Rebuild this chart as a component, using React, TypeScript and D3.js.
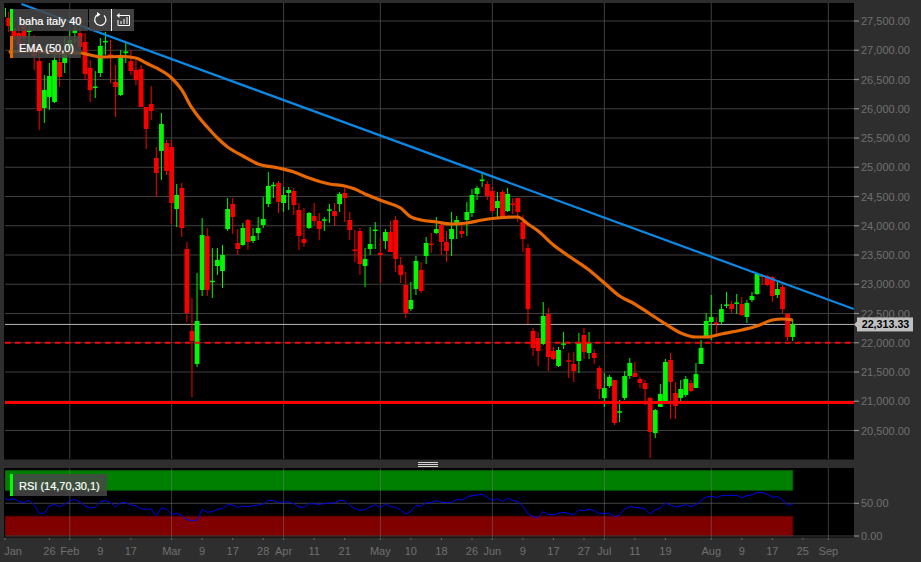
import * as d3 from 'd3';

const opens = [27568,27551,27380,27295,27432,27312,27073,26816,26013,26201,26115,26799,26782,27038,27295,27295,27141,26697,26363,26611,27140,26930,26457,26235,26950,26816,26662,26679,26030,26081,25158,25278,25415,25346,24286,24645,23603,22201,21637,22902,23825,23040,23312,23226,23944,24372,23705,23671,24098,23739,23876,24013,24372,24680,24731,24389,24560,24594,24269,23773,23962,24167,24081,24090,24260,24252,24372,24560,24098,23595,23910,23312,23603,23920,23534,23739,23893,24098,23329,22987,22577,22919,23244,23483,23695,23876,24013,23722,23773,24013,23910,24098,24218,24543,24775,24714,24594,24303,24577,24252,24380,24474,24064,23620,22201,22081,21979,22492,21859,21603,21970,21700,21637,21688,22132,21825,21825,21568,21056,21261,21363,20810,21056,21432,21483,21380,21312,21056,20457,20902,20970,21705,21141,21056,21107,21312,21226,21637,22081,22355,22345,22355,22640,22662,22670,22662,22440,22731,22833,23158,23141,23124,22816,22953,22492,22098];
const highs = [27774,27654,27483,27432,27517,27432,27261,27124,26577,26782,27004,27124,27227,27346,27432,27380,27295,26833,26645,27209,27312,27175,26748,27004,27141,27004,26868,26748,26030,26389,25346,25927,25466,25466,24714,24731,23722,22765,23192,24133,23962,23620,23620,23671,24474,24474,23944,24047,24115,23962,24150,24491,24919,24748,24765,24662,24662,24645,24389,24303,24235,24389,24218,24150,24372,24389,24577,24645,24235,23927,23962,23620,23979,24064,23791,23944,24081,24167,23466,23209,23038,23483,23380,23808,23876,24150,24047,23910,24235,24167,24064,24406,24628,24680,24902,24765,24662,24577,24611,24645,24474,24474,24184,23688,22252,22184,22697,22594,21927,21927,22184,21825,21842,22167,22252,22184,21893,21603,21483,21449,21363,21021,21517,21739,21671,21415,21363,21073,20868,21295,21722,21825,21329,21363,21432,21363,21654,22047,22509,22816,22440,22662,22868,22714,22833,22782,22731,22868,23192,23175,23158,23141,23038,22987,22509,22406];
const lows = [27517,27312,27038,26919,27004,27090,26662,25637,25756,25979,26098,26372,26611,26919,27124,27004,26491,26115,26184,26543,26919,26440,25859,26218,26782,26577,26406,26030,25312,25808,24491,24782,24868,24030,23979,23808,22355,21073,21585,22799,22799,22765,23158,22936,23910,23859,23500,23654,23586,23705,23756,23962,24320,24474,24218,24235,24269,24184,23586,23637,23944,24013,23756,23910,24047,23996,24235,24064,23756,23380,23158,22953,23500,23603,23021,23603,23551,23209,23021,22423,22543,22816,22850,23346,23534,23859,23500,23380,23483,23773,23791,23825,24150,24440,24662,24440,24218,24133,24115,24235,24201,24064,23551,22321,21773,21603,21962,21517,21705,21585,21893,21397,21329,21483,21722,21722,21637,21038,20902,21226,20594,20645,21021,21380,21415,21226,20936,20030,20372,20902,20970,20697,20697,21004,21073,21158,21226,21637,22081,22047,22150,22304,22594,22509,22492,22457,22338,22697,22816,22987,22970,22697,22765,22509,22030,22030];
const closes = [27722,27415,27175,27090,27209,27346,26902,25962,26321,26560,26833,26543,26919,27175,27346,27056,26594,26321,26380,27073,27160,26890,26372,26919,26980,26645,26491,26030,25654,25962,24902,25739,24936,24389,24526,23962,22509,22030,22372,23842,22902,23060,23415,23500,24286,24150,23603,23962,23722,23825,23962,24115,24680,24700,24406,24526,24611,24355,23825,23705,24218,24081,23944,24110,24280,24167,24543,24474,23927,23575,23346,23432,23688,23935,23500,23893,23551,23432,23158,22509,22731,23398,22885,23705,23680,23944,23722,23568,23944,24098,23859,24235,24526,24645,24790,24509,24252,24423,24167,24543,24365,24235,23773,22577,21910,21859,22457,21756,21722,21876,21990,21680,21517,21996,21842,21996,21739,21209,21226,21415,20628,20830,21432,21654,21415,21312,21209,20474,20850,21124,21671,21329,20919,21209,21380,21175,21466,21910,22372,22440,22330,22577,22655,22577,22690,22474,22680,22799,23175,23124,22987,22799,22919,22577,22098,22313.33];

const emaIndex = [1,5,11,15,17,19,23,26,28,30,33,35,37,38,40,42,44,47,50,54,57,60,64,67,69,71,75,78,80,82,85,88,91,94,97,101,103,105,108,111,115,118,121,124,127,130,133,136,138,141,145,148,151,153,155];
const emaValues = [26970,26987,26953,26953,26919,26885,26893,26868,26782,26697,26526,26321,26013,25893,25688,25500,25346,25192,25056,24987,24919,24816,24714,24680,24628,24543,24406,24303,24150,24098,24064,24030,24047,24098,24133,24150,24030,23910,23671,23483,23244,23021,22799,22662,22492,22321,22167,22098,22098,22150,22218,22286,22389,22406,22389];

const rsiValues = [58.7,55.1,57.1,52.6,51,54.6,47.4,34.7,34.7,45.9,48.5,44.9,48.5,53.6,56.1,51.5,45.9,42.9,43.9,52.6,54.1,51,44.4,51,51,47.4,46.4,41.3,41.3,40.8,31.1,42.9,40.8,33.2,34.7,31.1,25,23.5,24.5,40.8,36.2,37.2,40.8,41.8,48,47.4,43.9,45.9,44.9,46.4,47.4,49,54.6,54.1,51,52,52,49.5,44.4,43.9,49.5,49,48.5,49.5,50.5,50.5,54.6,53.6,46.4,42.3,39.3,40.3,44.4,48,43.4,49,44.9,43.9,39.8,33.7,37.8,46.9,45.4,51,51,54.1,51.5,51,51.5,55.6,55.1,59.2,61.7,62.8,63.8,59.2,54.6,57.1,52.6,57.7,54.6,52.6,45.9,34.2,29.1,28.6,37.2,32.7,32.7,34.7,36.2,34.2,32.7,39.8,38.8,40.8,38.8,34.2,34.7,34.7,29.6,32.1,41.3,44.9,43.9,42.9,41.3,33.7,39.8,42.9,50,47.4,44.4,45.9,48,44.9,48,54.1,59.7,60.7,58.7,61.7,62.2,61.7,62.2,58.7,61.7,62.8,66.8,66.3,63.8,59.2,60.7,55.1,46.4,49.5];

const priceTicks = [20500,21000,21500,22000,22500,23000,23500,24000,24500,25000,25500,26000,26500,27000,27500];
const rsiTicks = [0,50];
const dateTickIndex = [0,9,13,19,25,33,39,45,51,55,61,67,74,80,86,92,96,102,108,114,118,124,130,139,145,151,157,162];
const dateTickLabels = ['Jan','26','Feb','9','17','Mar','9','17','28','Apr','11','21','May','10','18','26','Jun','9','17','27','Jul','11','19','Aug','9','17','25','Sep'];
const monthLabels = ['Jan','Feb','Mar','Apr','May','Jun','Jul','Aug','Sep'];

const trendIndex = [3.5,167];
const trendValues = [27790,22577];
const supportDashed = 22000;
const supportSolid = 20980;
const lastPrice = 22313.33;

const WIDTH = 921;
const HEIGHT = 562;
const left = 5;
const right = 854;
const lastCandle = opens.length - 1;

const UP = '#00f800';
const DOWN = '#f80000';
const GRID = '#404040';
const AXIS_TEXT = '#707070';
const FONT = '"Liberation Sans", Arial, sans-serif';

export default function App() {
  const x = d3.scaleLinear().domain([0, lastCandle]).range([3.6, 792.7]);
  const y = d3.scaleLinear().domain([20500, 27500]).range([430.5, 21]);
  const rsiY = d3.scaleLinear().domain([0, 100]).range([536, 470.6]);

  const emaLine = d3.line<number>()
    .x((_, i) => x(emaIndex[i]))
    .y(d => y(d))
    .curve(d3.curveMonotoneX);
  const rsiLine = d3.line<number>()
    .x((_, i) => x(i))
    .y(d => rsiY(d));
  const trendLine = d3.line<number>()
    .x((_, i) => x(trendIndex[i]))
    .y(d => y(d));

  const priceFormat = d3.format(',.2f');
  const bandRight = x(lastCandle);

  return (
    <svg
      width={WIDTH}
      height={HEIGHT}
      style={{ position: 'absolute', left: 0, top: 0, display: 'block', background: '#2e2e2e' }}
      fontFamily={FONT}
    >
      <defs>
        <clipPath id="main-clip"><rect x={left} y={3} width={right - left} height={456} /></clipPath>
        <clipPath id="rsi-clip"><rect x={left} y={468} width={right - left} height={69.5} /></clipPath>
      </defs>

      {/* Main panel */}
      <rect x={left - 1} y={3} width={right - left + 1} height={456.5} fill="#000" />
      <g clipPath="url(#main-clip)">
        {priceTicks.map(t => (
          <line key={t} x1={left} x2={right} y1={y(t)} y2={y(t)} stroke={GRID} />
        ))}
        {dateTickIndex.map((t, i) => monthLabels.includes(dateTickLabels[i]) && t > 0 ? (
          <line key={t} x1={x(t)} x2={x(t)} y1={3} y2={460} stroke={GRID} />
        ) : null)}

        {/* Last price */}
        <line x1={left} x2={right} y1={y(lastPrice)} y2={y(lastPrice)} stroke="#b8b8b8" />

        {/* Candles */}
        {opens.map((o, i) => {
          const c = closes[i];
          const color = c >= o ? UP : DOWN;
          const top = y(Math.max(o, c));
          const bottom = y(Math.min(o, c));
          return (
            <g key={i}>
              <line x1={x(i)} x2={x(i)} y1={y(highs[i])} y2={y(lows[i])} stroke={color} strokeWidth={1} />
              <rect x={x(i) - 2.4} y={top} width={4.8} height={Math.max(bottom - top, 1.5)} fill={color} />
            </g>
          );
        })}

        {/* Horizontal levels */}
        <line x1={left} x2={right} y1={y(supportDashed)} y2={y(supportDashed)} stroke="#ff0000" strokeWidth={2} strokeDasharray="5.5,4.5" />
        <line x1={left} x2={right} y1={y(supportSolid)} y2={y(supportSolid)} stroke="#ff0000" strokeWidth={3} />

        {/* EMA and trend line */}
        <path d={emaLine(emaValues) ?? ''} fill="none" stroke="#e86800" strokeWidth={3.2} />
        <path d={trendLine(trendValues) ?? ''} fill="none" stroke="#0a8ae6" strokeWidth={2.2} />
      </g>

      {/* Legend */}
      <rect x={10} y={9} width={78} height={22} fill="#484848" fillOpacity={0.85} />
      <rect x={10} y={9} width={3} height={22} fill="#00ff00" />
      <text x={19} y={24.5} fontSize={11} fill="#fff" stroke="#fff" strokeWidth={0.2}>baha italy 40</text>
      <rect x={89} y={9} width={45} height={22} fill="#484848" fillOpacity={0.9} />
      <line x1={111.5} x2={111.5} y1={9} y2={31} stroke="#fff" />
      <path d="M 104 15.5 A 5.6 5.6 0 1 1 98 14.6" fill="none" stroke="#fff" strokeWidth={1.2} />
      <path d="M 97 12 L 100.5 14.6 L 97 17 Z" fill="#fff" />
      <path d="M 118 15.5 H 129.5 V 25.5 H 118 V 20 M 121 24 V 21 M 124 24 V 19 M 127 24 V 17" fill="none" stroke="#fff" strokeWidth={1} />
      <path d="M 116.5 15.5 L 119.5 13 V 18 Z" fill="#fff" />

      <rect x={10} y={36} width={71} height={22} fill="#484848" fillOpacity={0.85} />
      <rect x={10} y={36} width={3} height={22} fill="#e86800" />
      <text x={19} y={51.5} fontSize={11} fill="#fff" stroke="#fff" strokeWidth={0.2}>EMA (50,0)</text>

      {/* Price axis */}
      {priceTicks.map(t => (
        <g key={t}>
          <line x1={right} x2={859} y1={y(t)} y2={y(t)} stroke="#8a8a8a" strokeWidth={1.2} />
          <text x={861} y={y(t) + 4} fontSize={11} fill={AXIS_TEXT}>{priceFormat(t)}</text>
        </g>
      ))}
      <path d={`M 854 ${y(lastPrice)} L 857 ${y(lastPrice) - 3} V ${y(lastPrice) + 3} Z`} fill="#c0c0c0" />
      <rect x={857} y={y(lastPrice) - 7} width={56} height={14} fill="#c0c0c0" />
      <text x={885.5} y={y(lastPrice) + 4} fontSize={10.7} fontWeight="bold" textAnchor="middle" fill="#000">{priceFormat(lastPrice)}</text>

      {/* Pane divider grip */}
      {[463, 465, 467].map(g => (
        <line key={g} x1={418} x2={438} y1={g - 0.5} y2={g - 0.5} stroke="#fff" strokeWidth={0.8} />
      ))}

      {/* RSI panel */}
      <rect x={left - 1} y={468} width={right - left + 1} height={69.5} fill="#000" />
      <g clipPath="url(#rsi-clip)">
        <rect x={left} y={rsiY(100)} width={bandRight - left} height={rsiY(70) - rsiY(100)} fill="#008000" stroke="#006000" />
        <rect x={left} y={rsiY(30)} width={bandRight - left} height={rsiY(0) - rsiY(30)} fill="#800000" stroke="#600000" />
        {rsiTicks.map(t => (
          <line key={t} x1={left} x2={right} y1={rsiY(t)} y2={rsiY(t)} stroke={GRID} />
        ))}
        {dateTickIndex.map((t, i) => monthLabels.includes(dateTickLabels[i]) && t > 0 ? (
          <line key={t} x1={x(t)} x2={x(t)} y1={468} y2={538} stroke="#808080" strokeOpacity={0.45} />
        ) : null)}
        <path d={rsiLine(rsiValues) ?? ''} fill="none" stroke="#0000f0" strokeWidth={1} />
      </g>
      <rect x={10} y={474} width={97} height={22} fill="#484848" fillOpacity={0.85} />
      <rect x={10} y={474} width={3} height={22} fill="#00ff00" />
      <text x={19} y={489.5} fontSize={11} fill="#fff" stroke="#fff" strokeWidth={0.2}>RSI (14,70,30,1)</text>

      {rsiTicks.map(t => (
        <g key={t}>
          <line x1={right} x2={859} y1={rsiY(t)} y2={rsiY(t)} stroke="#8a8a8a" strokeWidth={1.2} />
          <text x={861} y={rsiY(t) + 4} fontSize={11} fill={AXIS_TEXT}>{d3.format('.2f')(t)}</text>
        </g>
      ))}

      {/* Date axis */}
      {dateTickIndex.map((t, i) => (
        <g key={t}>
          <line x1={Math.max(x(t), left)} x2={Math.max(x(t), left)} y1={538} y2={540} stroke="#6a6a6a" />
          <text x={Math.max(x(t), 13)} y={555} fontSize={11} textAnchor="middle" fill={AXIS_TEXT}>{dateTickLabels[i]}</text>
        </g>
      ))}
    </svg>
  );
}
